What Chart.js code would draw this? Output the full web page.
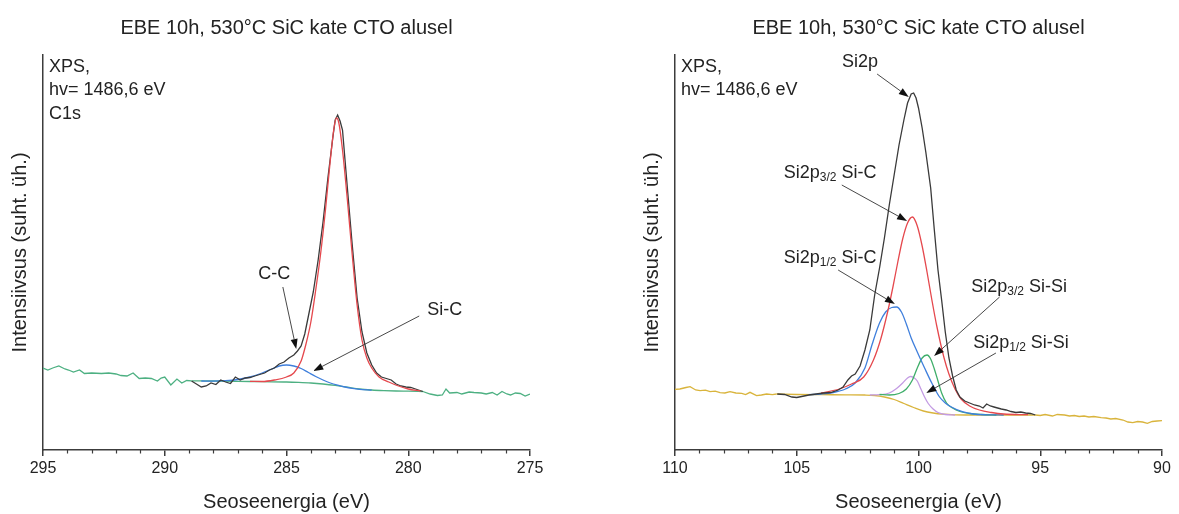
<!DOCTYPE html>
<html lang="et">
<head>
<meta charset="utf-8">
<title>EBE 10h, 530°C SiC kate CTO alusel</title>
<script src="https://cdn.jsdelivr.net/npm/chart.js@4.4.1/dist/chart.umd.min.js"></script>
<style>
  body { margin: 0; background: #fff; width: 1179px; height: 514px; overflow: hidden; position: relative; }
  canvas { position: absolute; top: 0; }
  #c1s { left: 0; }
  #si2p { left: 590px; }
</style>
</head>
<body>
<canvas id="c1s" width="590" height="514"></canvas>
<canvas id="si2p" width="589" height="514"></canvas>
<script>
// XPS spektrid: C1s (vasak) ja Si2p (parem)

// --- C1s ---
const c1sNoiseLeftE = [295.0, 294.8, 294.6, 294.35, 294.1, 293.95, 293.75, 293.5, 293.3, 293.0, 292.6, 292.3, 292.0, 291.8, 291.55, 291.3, 291.05, 290.8, 290.55, 290.3, 290.15, 290.0, 289.75, 289.5, 289.3, 289.1, 288.9];
const c1sNoiseLeftV = [82, 80, 82, 84, 81, 80, 78, 80, 76.5, 77, 76.5, 77, 76, 74.5, 74, 77, 71.5, 72, 71.5, 69, 72, 73, 65, 71, 67, 69.5, 69.2];
const c1sBgE = [288.9, 288.0, 287.0, 286.0, 285.0, 284.5, 284.0, 283.5, 283.0, 282.5, 282.0, 281.5, 281.0, 280.5, 280.0, 279.4];
const c1sBgV = [69.2, 69, 68.7, 68.3, 68, 67.6, 67, 66, 64.6, 62.8, 61, 60, 59.4, 59, 58.8, 58.5];
const c1sNoiseRightE = [279.4, 279.1, 278.8, 278.6, 278.45, 278.3, 278.0, 277.8, 277.5, 277.3, 277.0, 276.8, 276.55, 276.35, 276.15, 275.95, 275.8, 275.6, 275.4, 275.2, 275.0];
const c1sNoiseRightV = [58.5, 56, 54.5, 55, 61, 57, 57.5, 56, 58, 57.5, 57, 56, 57.5, 55, 58.5, 56, 55, 57, 56.5, 54, 56];
const c1sDataE = [288.9, 288.7, 288.5, 288.3, 288.1, 287.9, 287.7, 287.5, 287.3, 287.1, 286.9, 286.7, 286.5, 286.3, 286.1, 285.9, 285.7, 285.5, 285.3, 285.1, 284.9, 284.7, 284.55, 284.4, 284.25, 284.1, 283.9, 283.7, 283.5, 283.3, 283.1, 283.0, 282.9, 282.8, 282.7, 282.5, 282.3, 282.1, 281.9, 281.7, 281.5, 281.3, 281.1, 280.9, 280.7, 280.5, 280.3, 280.1, 279.9, 279.7, 279.4];
const c1sDataV = [69, 66, 63, 64, 67, 65.5, 70, 68, 66.5, 73, 70, 72, 72.5, 74, 75.5, 77, 80, 82, 86, 88, 92, 95, 99, 104, 116, 134, 158, 190, 228, 272, 312, 330, 335, 329, 320, 262, 205, 152, 118, 97, 85, 77, 73, 71.5, 70, 66, 64, 63, 62.5, 61, 58.5];
const c1sMainE = [286.5, 286.0, 285.5, 285.0, 284.7, 284.4, 284.2, 284.0, 283.8, 283.6, 283.4, 283.2, 283.05, 282.95, 282.85, 282.7, 282.5, 282.3, 282.1, 281.9, 281.7, 281.5, 281.2, 280.8, 280.4, 280.0, 279.5];
const c1sMainV = [68.6, 68.5, 70, 73, 77, 89, 106, 128, 160, 196, 240, 290, 322, 332, 327, 300, 250, 195, 145, 110, 92, 82, 73, 68, 64, 61, 59];
const c1sSiCE = [288.5, 288.0, 287.5, 287.0, 286.5, 286.0, 285.6, 285.3, 285.0, 284.7, 284.4, 284.1, 283.8, 283.5, 283.2, 282.9, 282.6, 282.3, 282.0, 281.5];
const c1sSiCV = [69, 68.9, 69.3, 70.5, 73, 77, 81, 84, 85, 84, 81.5, 77.5, 73.5, 70, 67, 64.8, 63, 61.6, 60.6, 59.8];

// --- Si2p ---
const si2pBgLeftE = [110.0, 109.8, 109.55, 109.38, 109.15, 108.97, 108.75, 108.56, 108.35, 108.15, 107.95, 107.74, 107.5, 107.26, 107.1, 106.92, 106.65, 106.45, 106.24, 106.0, 105.83];
const si2pBgLeftV = [60.7, 61, 62.5, 63.3, 60, 59.3, 59.8, 58.3, 58.8, 57.3, 57, 58.3, 57, 56.7, 55.5, 57.7, 54.3, 55, 56, 55.3, 56];
const si2pBgE = [105.83, 105.0, 104.0, 103.0, 102.2, 101.8, 101.4, 101.0, 100.6, 100.2, 99.8, 99.4, 99.0, 98.5, 97.5, 96.5, 95.2];
const si2pBgV = [56, 55.5, 55.3, 55.2, 55, 54.5, 53, 50.5, 46.5, 42.5, 39, 37, 35.8, 35.2, 35, 35, 35];
const si2pBgRightE = [95.2, 95.0, 94.8, 94.5, 94.3, 94.0, 93.8, 93.6, 93.4, 93.2, 93.0, 92.8, 92.5, 92.3, 92.1, 91.9, 91.6, 91.4, 91.2, 91.0, 90.8, 90.6, 90.4, 90.2, 90.0];
const si2pBgRightV = [35, 34.5, 35.5, 34, 35.5, 35, 34, 34.5, 33.5, 34, 33, 33.5, 32.3, 32, 31, 31.5, 30, 28, 27.3, 28.5, 28, 26.7, 28.5, 29, 29.3];
const si2pDataE = [105.8, 105.5, 105.2, 105.0, 104.8, 104.5, 104.2, 103.9, 103.6, 103.3, 103.1, 102.9, 102.75, 102.6, 102.4, 102.2, 102.0, 101.8, 101.6, 101.4, 101.2, 101.0, 100.8, 100.6, 100.45, 100.3, 100.2, 100.1, 100.0, 99.85, 99.7, 99.5, 99.35, 99.2, 99.05, 98.9, 98.75, 98.6, 98.45, 98.3, 98.1, 97.9, 97.7, 97.5, 97.35, 97.2, 97.05, 96.9, 96.75, 96.6, 96.4, 96.2, 96.0, 95.8, 95.6, 95.4, 95.2];
const si2pDataV = [56, 55.5, 53, 52.5, 53.5, 55, 56, 57, 57.5, 60, 63, 70, 74, 76, 84, 100, 120, 155, 182, 212, 245, 275, 305, 330, 347, 356, 357, 352, 342, 322, 298, 262, 220, 180, 150, 118, 92, 74, 60, 53, 49, 47, 45, 44, 42, 46, 44, 43, 42, 41, 40, 38.5, 37.5, 38, 37, 36.5, 35];
const si2pSiC32E = [104.0, 103.25, 102.75, 102.25, 101.85, 101.55, 101.25, 101.05, 100.85, 100.65, 100.45, 100.25, 100.05, 99.85, 99.65, 99.45, 99.25, 98.95, 98.75, 98.5, 98.25, 97.9, 97.5, 97.0, 96.5, 95.5];
const si2pSiC32V = [57, 61, 66, 73, 90, 111, 140, 163, 188, 211, 227, 233, 224, 204, 178, 150, 124, 92, 76, 61, 51, 44, 40, 37.5, 36, 35.3];
const si2pSiC12E = [104.5, 104.0, 103.5, 103.0, 102.6, 102.2, 101.9, 101.6, 101.35, 101.1, 100.9, 100.7, 100.5, 100.3, 100.05, 99.75, 99.45, 99.15, 98.9, 98.65, 98.2, 97.75, 97.2, 96.5];
const si2pSiC12V = [55.3, 56, 57.5, 61, 67, 82, 106, 127, 138, 142.5, 143, 138, 126, 112, 98, 82, 66.7, 53.5, 47, 43, 38.3, 36, 35.2, 35];
const si2pSiSi32E = [101.6, 101.2, 100.8, 100.5, 100.25, 100.05, 99.85, 99.65, 99.5, 99.35, 99.2, 99.05, 98.85, 98.6, 98.3, 97.9, 97.4, 96.8];
const si2pSiSi32V = [55.5, 55, 56.5, 61, 70, 82, 92, 95, 91, 81, 69, 57, 47, 42, 38.5, 36.5, 35.5, 35];
const si2pSiSi12E = [102.0, 101.6, 101.2, 100.9, 100.65, 100.45, 100.33, 100.2, 100.05, 99.9, 99.75, 99.6, 99.4, 99.2, 98.9, 98.5];
const si2pSiSi12V = [55, 55.3, 57, 61.5, 67, 72, 73.5, 72.5, 69, 61, 53, 46.5, 41, 37.5, 35.5, 35];

// tekstid ja nooled (andmekoordinaatides)
const chartTitle = 'EBE 10h, 530°C SiC kate CTO alusel';
const c1sInfo = ['XPS,', 'hv= 1486,6 eV', 'C1s'];
const si2pInfo = ['XPS,', 'hv= 1486,6 eV'];
const c1sLabels = [
    { text: 'C-C', at: [285.5, 176] },
    { text: 'Si-C', at: [278.5, 140] }
];
const c1sArrows = [
    { from: [285.15, 163], to: [284.6, 101] },
    { from: [279.55, 134], to: [283.9, 79] }
];
const si2pLabels = [
    { text: 'Si2p', at: [102.4, 388] },
    { text: 'Si2p', sub: '3/2', rest: ' Si-C', at: [103.63, 277] },
    { text: 'Si2p', sub: '1/2', rest: ' Si-C', at: [103.63, 192] },
    { text: 'Si2p', sub: '3/2', rest: ' Si-Si', at: [95.87, 163] },
    { text: 'Si2p', sub: '1/2', rest: ' Si-Si', at: [95.79, 107] }
];
const si2pArrows = [
    { from: [101.7, 376], to: [100.4, 353] },
    { from: [103.15, 265], to: [100.47, 229] },
    { from: [103.3, 180], to: [100.97, 146] },
    { from: [96.67, 153], to: [99.36, 94] },
    { from: [96.82, 97], to: [99.68, 57] }
];

const FONT = '"Liberation Sans", Arial, sans-serif';
const INK = '#232323';
const AXIS = '#3c3c3c';

const pts = (xs, ys) => xs.map((x, i) => ({ x: x, y: ys[i] }));
const curve = (xs, ys, color, smooth) => ({
    data: pts(xs, ys),
    borderColor: color,
    borderWidth: 1.3,
    pointRadius: 0,
    fill: false,
    tension: 0,
    cubicInterpolationMode: smooth ? 'monotone' : 'default'
});

function drawArrow(ctx, x0, y0, x1, y1) {
    const ang = Math.atan2(y1 - y0, x1 - x0), len = 10, half = 3.5;
    const bx = x1 - len * Math.cos(ang), by = y1 - len * Math.sin(ang);
    ctx.strokeStyle = '#333';
    ctx.fillStyle = '#111';
    ctx.lineWidth = 0.9;
    ctx.beginPath(); ctx.moveTo(x0, y0); ctx.lineTo(bx, by); ctx.stroke();
    ctx.beginPath();
    ctx.moveTo(x1, y1);
    ctx.lineTo(bx + half * Math.sin(ang), by - half * Math.cos(ang));
    ctx.lineTo(bx - half * Math.sin(ang), by + half * Math.cos(ang));
    ctx.closePath(); ctx.fill();
}

function drawLabel(ctx, l, px, py) {
    const big = '18px ' + FONT, small = '12px ' + FONT;
    ctx.font = big;
    const w1 = ctx.measureText(l.text).width;
    let w2 = 0, w3 = 0;
    if (l.sub) {
        ctx.font = small; w2 = ctx.measureText(l.sub).width;
        ctx.font = big; w3 = ctx.measureText(l.rest).width;
    }
    let cx = px - (w1 + w2 + w3) / 2;
    ctx.fillStyle = INK;
    ctx.textAlign = 'left';
    ctx.textBaseline = 'middle';
    ctx.font = big; ctx.fillText(l.text, cx, py); cx += w1;
    if (l.sub) {
        ctx.font = small; ctx.fillText(l.sub, cx, py + 5); cx += w2;
        ctx.font = big; ctx.fillText(l.rest, cx, py);
    }
}

function notes(info, labels, arrows) {
    return {
        id: 'notes',
        afterDatasetsDraw(chart) {
            const { ctx, chartArea, scales: { x, y } } = chart;
            ctx.save();
            // väikesed jaotised iga 1 eV tagant
            ctx.strokeStyle = AXIS;
            ctx.lineWidth = 1.2;
            for (let e = Math.ceil(x.min); e <= x.max; e++) {
                if (e % 5 === 0) continue;
                const px = Math.round(x.getPixelForValue(e)) + 0.5;
                ctx.beginPath(); ctx.moveTo(px, chartArea.bottom); ctx.lineTo(px, chartArea.bottom + 3.5); ctx.stroke();
            }
            ctx.fillStyle = INK;
            ctx.font = '18px ' + FONT;
            ctx.textAlign = 'left';
            ctx.textBaseline = 'middle';
            info.forEach((t, i) => ctx.fillText(t, chartArea.left + 6, chartArea.top + 12 + i * 23.3));
            arrows.forEach(a => drawArrow(ctx,
                x.getPixelForValue(a.from[0]), y.getPixelForValue(a.from[1]),
                x.getPixelForValue(a.to[0]), y.getPixelForValue(a.to[1])));
            labels.forEach(l => drawLabel(ctx, l, x.getPixelForValue(l.at[0]), y.getPixelForValue(l.at[1])));
            ctx.restore();
        }
    };
}

function makeChart(id, cfg) {
    return new Chart(document.getElementById(id), {
        type: 'line',
        data: { datasets: cfg.datasets },
        options: {
            responsive: false,
            animation: false,
            events: [],
            layout: { padding: { left: cfg.padLeft, right: cfg.padRight, top: 0, bottom: 0 } },
            plugins: {
                legend: { display: false },
                tooltip: { enabled: false },
                title: {
                    display: true, text: chartTitle, fullSize: false, color: INK,
                    font: { family: FONT, size: 20, weight: 'normal' },
                    padding: { top: 16, bottom: 15 }
                }
            },
            scales: {
                x: {
                    type: 'linear', reverse: true, min: cfg.xMin, max: cfg.xMax,
                    afterFit: s => { s.height = 64; },
                    border: { color: AXIS, width: 1.5 },
                    grid: { drawOnChartArea: false, drawTicks: true, tickLength: 6, color: AXIS, lineWidth: 1.5 },
                    ticks: { stepSize: 5, autoSkip: false, maxRotation: 0, padding: 3, color: INK, font: { family: FONT, size: 16 } },
                    title: { display: true, text: 'Seoseenergia (eV)', color: INK, font: { family: FONT, size: 20 }, padding: { top: 0, bottom: 0 } }
                },
                y: {
                    min: 0, max: 395,
                    afterFit: s => { s.width = 43; },
                    border: { color: AXIS, width: 1.5 },
                    grid: { display: false },
                    ticks: { display: false },
                    title: { display: true, text: 'Intensiivsus (suht. üh.)', color: INK, font: { family: FONT, size: 20 }, padding: { top: 8, bottom: 0 } }
                }
            }
        },
        plugins: [notes(cfg.info, cfg.labels, cfg.arrows)]
    });
}

const BLACK = '#3a3a3a', RED = '#e5484d', BLUE = '#3f7fdc';
const GREEN_L = '#4db082', GREEN_R = '#3fae6a', VIOLET = '#c39be3', GOLD = '#d9b43c';

makeChart('c1s', {
    xMin: 275, xMax: 295, padLeft: 0, padRight: 60,
    info: c1sInfo, labels: c1sLabels, arrows: c1sArrows,
    datasets: [
        curve(c1sMainE, c1sMainV, RED, true),
        curve(c1sDataE, c1sDataV, BLACK, false),
        curve(c1sSiCE, c1sSiCV, BLUE, true),
        curve(c1sNoiseLeftE, c1sNoiseLeftV, GREEN_L, false),
        curve(c1sBgE, c1sBgV, GREEN_L, true),
        curve(c1sNoiseRightE, c1sNoiseRightV, GREEN_L, false)
    ]
});

makeChart('si2p', {
    xMin: 90, xMax: 110, padLeft: 42, padRight: 17,
    info: si2pInfo, labels: si2pLabels, arrows: si2pArrows,
    datasets: [
        curve(si2pDataE, si2pDataV, BLACK, false),
        curve(si2pSiC32E, si2pSiC32V, RED, true),
        curve(si2pSiC12E, si2pSiC12V, BLUE, true),
        curve(si2pSiSi32E, si2pSiSi32V, GREEN_R, true),
        curve(si2pSiSi12E, si2pSiSi12V, VIOLET, true),
        curve(si2pBgLeftE, si2pBgLeftV, GOLD, false),
        curve(si2pBgE, si2pBgV, GOLD, true),
        curve(si2pBgRightE, si2pBgRightV, GOLD, false)
    ]
});
</script>
</body>
</html>
